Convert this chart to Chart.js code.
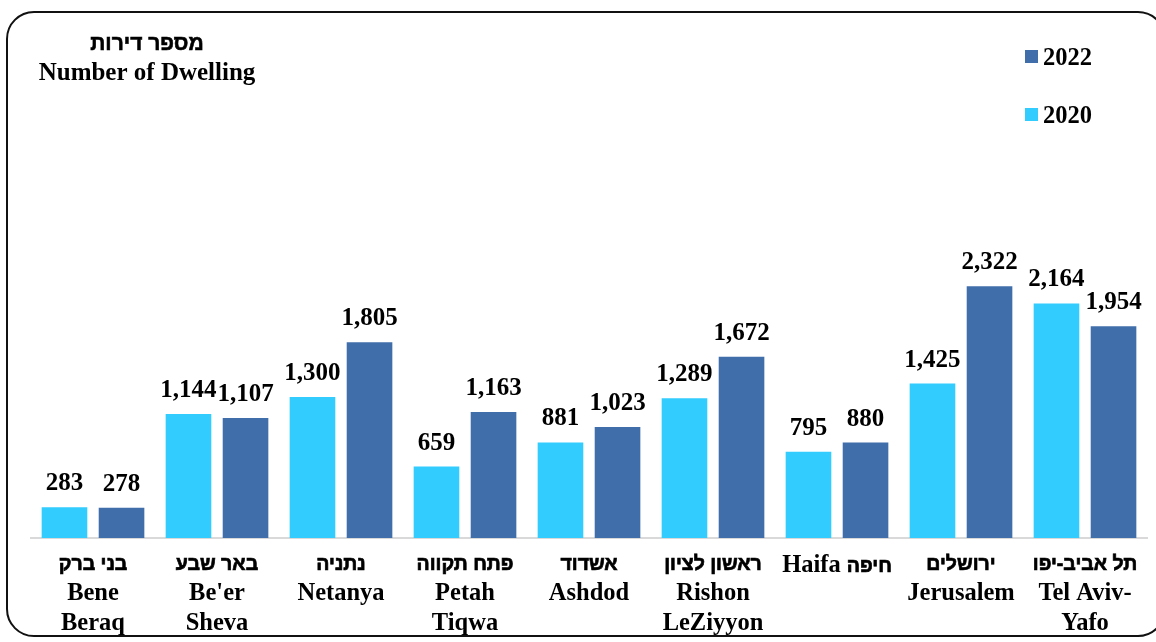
<!DOCTYPE html>
<html>
<head>
<meta charset="utf-8">
<script src="https://cdn.jsdelivr.net/npm/chart.js@4"></script>
<style>
  html, body { margin: 0; padding: 0; background: #fff; }
  #wrap { position: relative; width: 1156px; height: 642px; overflow: hidden; }
  #frame { position: absolute; left: 6px; top: 11px; width: 1160px; height: 626px; border: 2px solid #111; border-radius: 28px; box-sizing: border-box; }
  canvas { position: absolute; left: 0; top: 0; }
</style>
</head>
<body>
<div id="wrap">
  <div id="frame"></div>
  <canvas id="c" width="1156" height="642"></canvas>
</div>
<script>
const titleHebrew = 'מספר דירות';
const titleEnglish = 'Number of Dwelling';
const categories = [
  ['בני ברק', 'Bene', 'Beraq'],
  ['באר שבע', "Be'er", 'Sheva'],
  ['נתניה', 'Netanya'],
  ['פתח תקווה', 'Petah', 'Tiqwa'],
  ['אשדוד', 'Ashdod'],
  ['ראשון לציון', 'Rishon', 'LeZiyyon'],
  ['Haifa חיפה'],
  ['ירושלים', 'Jerusalem'],
  ['תל אביב-יפו', 'Tel Aviv-', 'Yafo']
];
const seriesNames = ['2020', '2022'];
const values2020 = [283, 1144, 1300, 659, 881, 1289, 795, 1425, 2164];
const values2022 = [278, 1107, 1805, 1163, 1023, 1672, 880, 2322, 1954];
const colors = ['#33CCFF', '#3F6EAA'];

const SERIF = "'Liberation Serif', 'Times New Roman', serif";
const HEB = "'Liberation Sans', 'DejaVu Sans', sans-serif";
const LATIN_LABEL = 'bold 24.5px ' + SERIF;
const HEB_LABEL = 'bold 19.5px ' + HEB;

function drawMixed(ctx, text, cx, y, latinFont, hebFont) {
  const parts = text.split(/([\u0590-\u05FF][\u0590-\u05FF\s\-]*[\u0590-\u05FF]|[\u0590-\u05FF])/).filter(p => p.length);
  const runs = parts.map(p => ({ t: p, heb: /[\u0590-\u05FF]/.test(p) }));
  let total = 0;
  runs.forEach(r => { ctx.font = r.heb ? hebFont : latinFont; r.w = ctx.measureText(r.t).width; total += r.w; });
  let x = cx - total / 2;
  ctx.textAlign = 'left';
  runs.forEach(r => {
    ctx.font = r.heb ? hebFont : latinFont;
    ctx.fillText(r.t, x, y);
    if (r.heb) { ctx.lineWidth = 0.7; ctx.strokeStyle = '#000'; ctx.strokeText(r.t, x, y); }
    x += r.w;
  });
}

const decorations = {
  id: 'decorations',
  afterDraw(chart) {
    const ctx = chart.ctx;
    const xs = chart.scales.x;
    ctx.save();
    ctx.fillStyle = '#000';
    ctx.textBaseline = 'alphabetic';
    // category labels positioned by the x scale
    categories.forEach((lines, i) => {
      const x = xs.getPixelForTick(i);
      lines.forEach((line, j) => {
        const y = xs.top + (j === 0 ? (lines.length === 1 ? 34 : 32) : 62 + (j - 1) * 30);
        drawMixed(ctx, line, x, y, LATIN_LABEL, HEB_LABEL);
      });
    });
    // title
    ctx.textAlign = 'center';
    ctx.font = 'bold 21px ' + HEB;
    ctx.fillText(titleHebrew, 147, 50);
    ctx.lineWidth = 0.6; ctx.strokeStyle = '#000';
    ctx.strokeText(titleHebrew, 147, 50);
    ctx.font = 'bold 25px ' + SERIF;
    ctx.fillText(titleEnglish, 147, 80);
    // legend
    const legend = [[seriesNames[1], colors[1], 65], [seriesNames[0], colors[0], 123]];
    legend.forEach(([name, col, base]) => {
      ctx.fillStyle = col;
      ctx.fillRect(1025, base - 15, 13, 13);
      ctx.fillStyle = '#000';
      ctx.textAlign = 'left';
      ctx.font = 'bold 24.5px ' + SERIF;
      ctx.fillText(name, 1043, base);
    });
    ctx.restore();
  },
  afterDatasetsDraw(chart) {
    const ctx = chart.ctx;
    ctx.save();
    ctx.font = 'bold 25px ' + SERIF;
    ctx.fillStyle = '#000';
    ctx.textAlign = 'center';
    ctx.textBaseline = 'alphabetic';
    chart.data.datasets.forEach((ds, di) => {
      chart.getDatasetMeta(di).data.forEach((bar, i) => {
        ctx.fillText(ds.data[i].toLocaleString('en-US'), bar.x, bar.y - 17);
      });
    });
    ctx.restore();
  }
};

new Chart(document.getElementById('c'), {
  type: 'bar',
  data: {
    labels: categories,
    datasets: [
      { label: seriesNames[0], data: values2020, backgroundColor: colors[0], borderWidth: 0 },
      { label: seriesNames[1], data: values2022, backgroundColor: colors[1], borderWidth: 0 }
    ]
  },
  options: {
    responsive: false,
    animation: false,
    layout: { padding: { left: 31, right: 9, top: 267, bottom: 0 } },
    datasets: { bar: { categoryPercentage: 0.92, barPercentage: 0.80 } },
    plugins: { legend: { display: false }, tooltip: { enabled: false }, title: { display: false } },
    scales: {
      x: {
        grid: { display: false, drawTicks: false },
        border: { display: true, color: '#D9D9D9', width: 2 },
        ticks: { display: false },
        afterFit(s) { s.height = 104; }
      },
      y: { display: false, min: 0, max: 2500 }
    }
  },
  plugins: [decorations]
});
</script>
</body>
</html>
